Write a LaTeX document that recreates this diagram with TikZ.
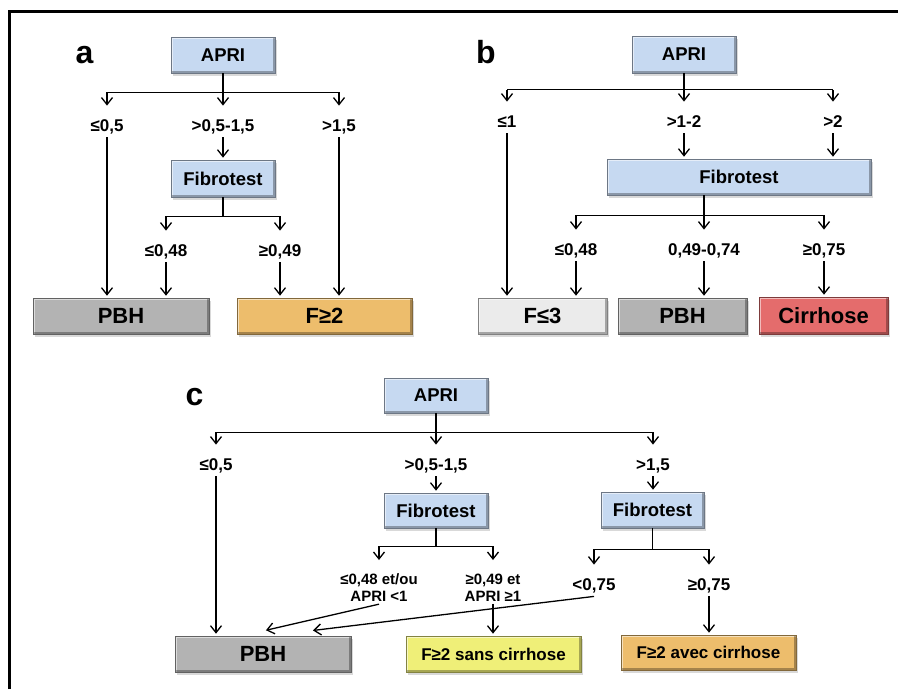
\documentclass[tikz,border=0pt]{standalone}
\usepackage{fontspec}
\setmainfont{Liberation Sans}
\usetikzlibrary{arrows.meta, positioning, shadows}
\definecolor{aprib}{HTML}{C6D9F1}
\definecolor{pbhg}{HTML}{B3B3B3}
\definecolor{fdeux}{HTML}{EDBD6C}
\definecolor{ftrois}{HTML}{EBEBEB}
\definecolor{cirr}{HTML}{E46C6C}
\definecolor{sansc}{HTML}{EFEF78}

\begin{document}
\begin{tikzpicture}[x=1pt, y=-1pt, line width=1.3pt, >={Straight Barb[length=7pt,width=11pt]},
        bevel/.style={path picture={
            \draw[white, opacity=.55, line width=4pt] (path picture bounding box.south west) -- (path picture bounding box.north west) -- (path picture bounding box.north east);
            \draw[black, opacity=.3, line width=4pt] (path picture bounding box.north east) -- (path picture bounding box.south east) -- (path picture bounding box.south west);}},
        box/.style={draw=#1!55!black, line width=.6pt, fill=#1, inner sep=0pt, minimum height=36pt,
            drop shadow={shadow xshift=1.5pt, shadow yshift=-3pt, opacity=.3}, bevel},
        test/.style={font=\fontsize{18.5}{20}\selectfont\bfseries},
        res/.style={font=\fontsize{22}{24}\selectfont\bfseries},
        res2/.style={font=\fontsize{17}{19}\selectfont\bfseries},
        thr/.style={font=\fontsize{17}{19}\selectfont\bfseries, inner sep=2pt, text height=12.5pt, text depth=3pt},
        thrr/.style={font=\fontsize{15}{17}\selectfont\bfseries, align=center, inner sep=2pt, anchor=north},
        pan/.style={font=\fontsize{32}{34}\selectfont\bfseries, anchor=base, inner sep=0pt},
        tip/.style={->, shorten >=2pt},
        tolab/.style={->, shorten >=11pt}]
    \useasboundingbox (0,0) rectangle (898,689);
    \draw[line width=3pt] (9,689) -- (9,11) -- (898,11);

    % a
    \node[pan] (labA) at (84.5,63) {a};
    \node[box=aprib, test, minimum width=104pt] (apriA) at (223,55) {APRI};
    \node[thr] (a1) at (107,127) {≤0,5};
    \node[thr] (a2) at (223,127) {>0,5-1,5};
    \node[thr] (a3) at (339,127) {>1,5};
    \node[box=aprib, test, minimum width=104pt, minimum height=37pt] (fibA) at (223,178.5) {Fibrotest};
    \node[thr] (a4) at (166,252) {≤0,48};
    \node[thr] (a5) at (280,252) {≥0,49};
    \node[box=pbhg, res, minimum width=176pt] (pbhA) at (121,316) {PBH};
    \node[box=fdeux, res, minimum width=175pt] (fA) at (324.5,316) {F≥2};
    \draw (apriA.south) -- ++(0,19) coordinate (jA);
    \draw (a1 |- jA) -- (a3 |- jA);
    \path[tolab] (jA) edge (a2) (a1 |- jA) edge (a1) (a3 |- jA) edge (a3);
    \path[tip] (a1) edge (a1 |- pbhA.north) (a2) edge (fibA) (a3) edge (a3 |- fA.north);
    \draw (fibA.south) -- ++(0,19) coordinate (jA2);
    \draw (a4 |- jA2) -- (a5 |- jA2);
    \path[tolab] (a4 |- jA2) edge (a4) (a5 |- jA2) edge (a5);
    \path[tip] (a4) edge (a4 |- pbhA.north) (a5) edge (a5 |- fA.north);

    % b
    \node[pan] (labB) at (486,63) {b};
    \node[box=aprib, test, minimum width=104pt, minimum height=37pt] (apriB) at (684,54.5) {APRI};
    \node[thr] (b1) at (507,123) {≤1};
    \node[thr] (b2) at (684,123) {>1-2};
    \node[thr] (b3) at (833,123) {>2};
    \node[box=aprib, test, minimum width=264pt] (fibB) at (739,177) {Fibrotest};
    \node[thr] (b4) at (576,251) {≤0,48};
    \node[thr] (b5) at (704,251) {0,49-0,74};
    \node[thr] (b6) at (824,251) {≥0,75};
    \node[box=ftrois, res, minimum width=129pt] (ftB) at (542.5,316) {F≤3};
    \node[box=pbhg, res, minimum width=129pt] (pbhB) at (682.5,316) {PBH};
    \node[box=cirr, res, minimum width=129pt, minimum height=37pt] (cirB) at (823.5,315.5) {Cirrhose};
    \draw (apriB.south) -- ++(0,16.5) coordinate (jB);
    \draw (b1 |- jB) -- (b3 |- jB);
    \path[tolab] (jB) edge (b2) (b1 |- jB) edge (b1) (b3 |- jB) edge (b3);
    \path[tip] (b1) edge (b1 |- ftB.north) (b2) edge (b2 |- fibB.north) (b3) edge (b3 |- fibB.north);
    \draw (b5 |- fibB.south) -- ++(0,20) coordinate (jB2);
    \draw (b4 |- jB2) -- (b6 |- jB2);
    \path[tolab] (jB2) edge (b5) (b4 |- jB2) edge (b4) (b6 |- jB2) edge (b6);
    \path[tip] (b4) edge (b4 |- ftB.north) (b5) edge (b5 |- pbhB.north) (b6) edge (b6 |- cirB.north);

    % c
    \node[pan] (labC) at (194.5,405) {c};
    \node[box=aprib, test, minimum width=104pt, minimum height=35pt] (apriC) at (436,395.5) {APRI};
    \node[thr] (c1) at (216,466) {≤0,5};
    \node[thr] (c2) at (436,466) {>0,5-1,5};
    \node[thr] (c3) at (653,466) {>1,5};
    \node[box=aprib, test, minimum width=104pt, minimum height=35pt] (fibC) at (436,510.5) {Fibrotest};
    \node[box=aprib, test, minimum width=103pt] (fibD) at (652.5,510) {Fibrotest};
    \node[thrr] (c4) at (379,571) {≤0,48 et/ou\\APRI <1};
    \node[thrr] (c5) at (493,571) {≥0,49 et\\APRI ≥1};
    \node[thr] (c6) at (594,586) {<0,75};
    \node[thr] (c7) at (709,586) {≥0,75};
    \node[box=pbhg, res, minimum width=176pt] (pbhC) at (263,654) {PBH};
    \node[box=sansc, res2, minimum width=175pt] (sansC) at (493.5,654) {F≥2 sans cirrhose};
    \node[box=fdeux, res2, minimum width=175pt, minimum height=35pt] (avecC) at (708.5,652.5) {F≥2 avec cirrhose};
    \coordinate (pA) at ([xshift=1pt, yshift=5pt]pbhC.north);
    \coordinate (pB) at ([xshift=48pt, yshift=5pt]pbhC.north);
    \draw (apriC.south) -- ++(0,19) coordinate (jC);
    \draw (c1 |- jC) -- (c3 |- jC);
    \path[tolab] (jC) edge (c2) (c1 |- jC) edge (c1) (c3 |- jC) edge (c3);
    \path[tip] (c1) edge (c1 |- pbhC.north) (c2) edge (fibC) (c3) edge (c3 |- fibD.north);
    \draw (fibC.south) -- ++(0,18) coordinate (jC2);
    \draw (c4 |- jC2) -- (c5 |- jC2);
    \path[tolab] (c4 |- jC2) edge (c4) (c5 |- jC2) edge (c5);
    \draw (fibD.south) -- ++(0,21) coordinate (jD);
    \draw (c6 |- jD) -- (c7 |- jD);
    \path[tolab] (c6 |- jD) edge (c6) (c7 |- jD) edge (c7);
    \path[tip] (c4.south) edge (pA) (c6.south) edge (pB)
        (c5) edge (c5 |- sansC.north) (c7) edge (c7 |- avecC.north);
\end{tikzpicture}
\end{document}
